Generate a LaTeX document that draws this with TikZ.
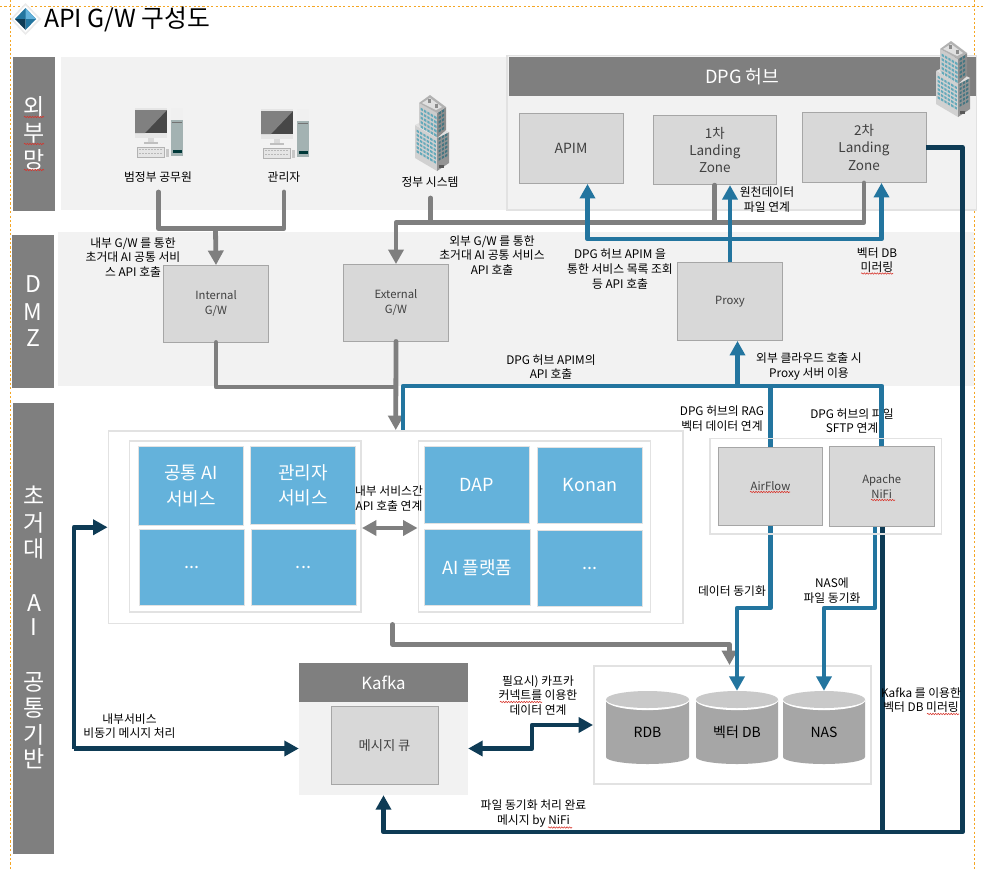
\documentclass[tikz,border=0pt]{standalone}
\usepackage{fontspec}
\setmainfont{Noto Sans CJK KR}
\usetikzlibrary{arrows.meta,decorations.pathmorphing,calc}
\definecolor{bandgray}{HTML}{7F7F7F}
\definecolor{panelgray}{HTML}{F2F2F2}
\definecolor{boxgray}{HTML}{D8D8D8}
\definecolor{edgegray}{HTML}{A6A6A6}
\definecolor{groupgray}{HTML}{E2E2E2}
\definecolor{svcblue}{HTML}{64B2DB}
\definecolor{lineblue}{HTML}{23759F}
\definecolor{linedark}{HTML}{0E3B55}
\definecolor{guide}{HTML}{F5A623}
\definecolor{boxtext}{HTML}{404040}
\definecolor{wavered}{HTML}{D8332A}
\definecolor{wintle}{HTML}{62A9BA}
\tikzset{
  gbox/.style={draw=edgegray,fill=boxgray,line width=0.9pt,text=boxtext,align=center,inner sep=0pt},
  sbox/.style={draw=groupgray,fill=svcblue,line width=1pt,text=white,align=center,inner sep=0pt,font=\fontsize{18}{25.5}\selectfont},
  grp/.style={draw=groupgray,line width=1.9pt,inner sep=0pt},
  band/.style={fill=bandgray,inner sep=0pt},
  panel/.style={fill=panelgray,inner sep=0pt},
  bandtxt/.style={text=white,font=\fontsize{23}{23}\selectfont,inner sep=0pt},
  lbl/.style={align=center,inner sep=0pt,text=black,font=\fontsize{11.8}{14.6}\selectfont},
  tip/.style={-{Triangle[length=14.5pt,width=15pt]}},
  tips/.style={{Triangle[length=14.5pt,width=15pt]}-{Triangle[length=14.5pt,width=15pt]}},
  glink/.style={draw=bandgray,line width=4.8pt,line join=round,line cap=round},
  blink/.style={draw=lineblue,line width=4.8pt,line join=round},
  dlink/.style={draw=linedark,line width=4.8pt,line join=round},
  wavy/.style={draw=wavered,line width=0.55pt,decorate,decoration={snake,segment length=2.6pt,amplitude=0.7pt}},
  guideline/.style={draw=guide,line width=0.9pt,dash pattern=on 2.2pt off 2.2pt},
  pcicon/.pic={
    \fill[black!10] (0,0) rectangle (32,30);
    \fill[black!72] (0,2) rectangle (32,25);
    \fill[black!50] (0,25) -- (0,2) -- (32,2) -- (10,25) -- cycle;
    \fill[black!15] (13,30) rectangle (19,34);
    \fill[black!25] (9,34) rectangle (23,36);
    \fill[black!10,draw=black!30,line width=0.3pt] (2,39) rectangle (29,49);
    \foreach \kx in {4,7,...,27}{\fill[black!28] (\kx,41) rectangle ++(1.6,1.4);\fill[black!28] (\kx,44.5) rectangle ++(1.6,1.4);}
    \fill[black!22] (30.5,41) rectangle (33.5,49);
    \fill[black!6] (36,0) rectangle (48,12);
    \fill[gray!80!teal!60!white] (36,12) rectangle (48,48);
    \fill[black!55] (37,14) rectangle (47,15.2);
    \fill[black!55!teal] (37.5,42) rectangle (46.5,45);
  },
  towericon/.pic={
    % lower block
    \fill[black!18] (-15,30) -- (7,43) -- (7,76) -- (-15,63) -- cycle;
    \fill[black!42] (7,43) -- (19,37) -- (19,68) -- (7,76) -- cycle;
    \fill[black!12] (-15,30) -- (-11,28) -- (15,35) -- (19,37) -- (7,43) -- cycle;
    \foreach \ci in {0,...,5}{\foreach \ri in {0,...,5}{
      \fill[wintle] ({-13.5+\ci*3.4},{34.5+\ri*4.1+\ci*2}) -- ++(2.4,1.4) -- ++(0,2.3) -- ++(-2.4,-1.4) -- cycle;}}
    \foreach \ci in {0,1,2}{\foreach \ri in {0,...,5}{
      \fill[wintle!70!black] ({8.5+\ci*3.3},{43-\ci*1.8+\ri*4.1}) -- ++(2.2,-1.2) -- ++(0,2.3) -- ++(-2.2,1.2) -- cycle;}}
    \fill[black!65] (9,70) rectangle (14,73);
    % upper block
    \fill[black!20] (-11,8) -- (7,18) -- (7,43) -- (-11,30) -- cycle;
    \fill[black!45] (7,18) -- (16,12) -- (16,35) -- (7,43) -- cycle;
    \foreach \ci in {0,...,4}{\foreach \ri in {0,...,4}{
      \fill[wintle] ({-9.5+\ci*3.4},{12.5+\ri*4.4+\ci*2}) -- ++(2.4,1.4) -- ++(0,2.4) -- ++(-2.4,-1.4) -- cycle;}}
    \foreach \ci in {0,1}{\foreach \ri in {0,...,4}{
      \fill[wintle!70!black] ({8.5+\ci*3.4},{17.5-\ci*2.1+\ri*4.4}) -- ++(2.3,-1.3) -- ++(0,2.4) -- ++(-2.3,1.3) -- cycle;}}
    \fill[black!30] (-11,8) -- (0,0) -- (16,12) -- (7,18) -- cycle;
    \fill[black!12] (-8,8) -- (0,3) -- (12,12) -- (6,15) -- cycle;
    \fill[black!45] (-2,4) rectangle (1,8);
    \fill[black!45] (5,9) rectangle (8,13);
  },
}
\newcommand{\bx}[6]{%
  \pgfmathsetmacro{\bxw}{#4-#2}\pgfmathsetmacro{\bxh}{#5-#3}%
  \pgfmathsetmacro{\bxx}{(#2+#4)/2}\pgfmathsetmacro{\bxy}{(#3+#5)/2}%
  \node[#6,minimum width=\bxw pt,minimum height=\bxh pt] (#1) at (\bxx,\bxy) {};}
\newcommand{\tbx}[7]{%
  \pgfmathsetmacro{\bxw}{#4-#2}\pgfmathsetmacro{\bxh}{#5-#3}%
  \pgfmathsetmacro{\bxx}{(#2+#4)/2}\pgfmathsetmacro{\bxy}{(#3+#5)/2}%
  \node[#6,minimum width=\bxw pt,minimum height=\bxh pt] (#1) at (\bxx,\bxy) {#7};}
\newcommand{\cyl}[4]{%
  \pgfmathsetmacro{\cmid}{(#2+#3)/2}\pgfmathsetmacro{\crx}{(#3-#2)/2}%
  \fill[edgegray] (#2,700) -- (#2,757) arc[start angle=180,delta angle=180,x radius=\crx,y radius=-7] -- (#3,700) -- cycle;
  \draw[white,line width=1.2pt,fill=white] (#2,699.5) arc[start angle=180,delta angle=180,x radius=\crx,y radius=-10] arc[start angle=0,delta angle=180,x radius=\crx,y radius=-8.5] -- cycle;
  \fill[black!21] (\cmid,699.5) ellipse[x radius=\crx,y radius=8.5];
  \bx{#1}{#2}{691}{#3}{764}{inner sep=0pt}
  \node[inner sep=0pt,text=black,font=\fontsize{14}{14}\selectfont] at (\cmid,732) {#4};}
\begin{document}
\begin{tikzpicture}[x=1pt,y=-1pt]
\useasboundingbox (0,0) rectangle (983,871);
\fill[white] (0,0) rectangle (983,871);
% guides
\draw[guideline] (0,6.3) -- (983,6.3);
\draw[guideline] (10.5,0) -- (10.5,871);
\draw[guideline] (974.7,0) -- (974.7,871);
% title
\fill[black!8] (25.5,3) -- (41,19) -- (25.5,35) -- (10.5,19) -- cycle;
\fill[white] (25.5,5.5) -- (38.5,19) -- (25.5,32.5) -- (13,19) -- cycle;
\fill[lineblue] (25.5,8) -- (36,19) -- (15,19) -- cycle;
\fill[svcblue] (25.5,8) -- (36,19) -- (25.5,19) -- cycle;
\fill[linedark] (15,19) -- (25.5,19) -- (25.5,30) -- cycle;
\fill[lineblue] (25.5,19) -- (36,19) -- (25.5,30) -- cycle;
\node[anchor=west,inner sep=0pt,font=\fontsize{24.8}{26}\selectfont] (title) at (44,19) {API G/W 구성도};
% bands and panels
\bx{bandext}{13}{57}{55}{211}{band}
\bx{banddmz}{12}{235}{54}{388}{band}
\bx{bandai}{13}{403}{54}{854}{band}
\bx{panext}{61}{57}{507}{210}{panel}
\bx{pandmz}{58}{232}{974}{386}{panel}
\node[bandtxt] (b1) at (34,107) {외};
\node[bandtxt] (b2) at (34,133) {부};
\node[bandtxt] (b3) at (34,160) {망};
\node[bandtxt] (b4) at (33,284) {D};
\node[bandtxt] (b5) at (33,312) {M};
\node[bandtxt] (b6) at (33,338) {Z};
\node[bandtxt] (b7) at (34,495) {초};
\node[bandtxt] (b8) at (34,523) {거};
\node[bandtxt] (b9) at (34,549) {대};
\node[bandtxt] (b10) at (34,603) {A};
\node[bandtxt] (b11) at (34,627) {I};
\node[bandtxt] (b12) at (34,682) {공};
\node[bandtxt] (b13) at (34,708) {통};
\node[bandtxt] (b14) at (34,735) {기};
\node[bandtxt] (b15) at (34,759) {반};
% DPG hub
\bx{hub}{507}{55.5}{976.5}{210}{draw=groupgray,fill=panelgray,line width=1.9pt}
\tbx{hubhead}{509}{57}{975.5}{96}{band,text=white,font=\fontsize{18.2}{19}\selectfont}{DPG 허브}
\tbx{apim}{519}{113}{623}{183.5}{gbox,font=\fontsize{14}{17.5}\selectfont}{APIM}
\tbx{first}{653}{115.3}{776.7}{184.7}{gbox,font=\fontsize{13.5}{17.3}\selectfont}{1차\\Landing\\Zone}
\tbx{sec}{802}{112}{926}{182.5}{gbox,font=\fontsize{13.5}{17.3}\selectfont}{2차\\Landing\\Zone}
% DMZ boxes
\tbx{gwint}{163.5}{265.5}{268.5}{342}{gbox,font=\fontsize{11.3}{15}\selectfont}{Internal\\G/W}
\tbx{gwext}{343.5}{264.5}{448.5}{341}{gbox,font=\fontsize{11.3}{15}\selectfont}{External\\G/W}
\tbx{proxy}{677.5}{262.5}{782.5}{340.5}{gbox,font=\fontsize{11.3}{15}\selectfont}{Proxy}
% AI services
\bx{outer}{108.5}{431}{683}{623.5}{grp,fill=white}
\bx{grpL}{129.5}{441}{361}{612}{grp}
\bx{grpR}{418.5}{441}{650.5}{612}{grp}
\tbx{svcA}{138.5}{446.5}{243.5}{525}{sbox}{공통 AI\\서비스}
\tbx{svcB}{250.5}{446.5}{355.5}{524.5}{sbox}{관리자\\서비스}
\tbx{svcC}{139.5}{529.5}{244}{605}{sbox}{...}
\tbx{svcD}{251}{529.5}{356}{605}{sbox}{...}
\tbx{svcE}{424.5}{446.5}{529.5}{523}{sbox}{DAP}
\tbx{svcF}{537.5}{447}{642.5}{523}{sbox}{Konan}
\tbx{svcG}{424.5}{529.5}{530}{605}{sbox}{AI 플랫폼}
\tbx{svcH}{537.5}{530.5}{642.5}{606}{sbox}{...}
% Kafka
\bx{kbody}{299}{702}{468}{795}{panel}
\tbx{khead}{299}{663}{468}{702}{band,text=white,font=\fontsize{16.8}{18}\selectfont}{Kafka}
\tbx{kqueue}{331}{706.5}{438}{784.5}{gbox,font=\fontsize{13.3}{14}\selectfont}{메시지 큐}
% DB group
\bx{dbgrp}{594}{666}{871}{784}{grp,fill=white}
\cyl{dbr}{606}{689}{RDB}
\cyl{dbv}{696}{778}{벡터 DB}
\cyl{dbn}{783}{865}{NAS}
% junctions and free ends
\coordinate (u1out) at (158.5,192);
\coordinate (u2out) at (284,192);
\coordinate (govout) at (430.5,198);
\coordinate (jA) at (215.5,228.5);
\coordinate (jB) at (430.5,222.5);
\coordinate (jC) at (730,239);
\coordinate (jD) at (737.5,386);
\coordinate (jE) at (395.5,387);
\coordinate (jF) at (754,608);
\coordinate (jG) at (850,608);
\coordinate (jH) at (882.5,832);
\coordinate (jI) at (962.5,832);
\coordinate (jL) at (74,748.5);
\coordinate (jM) at (532,737);
\coordinate (jN) at (560,644.5);
% label behind line
\node[lbl] (tSftp) at (852,421) {DPG 허브의 파일\\SFTP 연계};
% airflow group boxes
\tbx{airflow}{718.5}{447.5}{822.5}{525.5}{gbox,font=\fontsize{11.3}{15}\selectfont}{AirFlow}
\tbx{nifi}{829.5}{446.5}{934}{526.5}{gbox,font=\fontsize{11.3}{15}\selectfont}{Apache\\NiFi}
% gray connectors
\draw[glink] (u1out) |- (jA);
\draw[glink] (u2out) |- (jA);
\draw[glink,tip] (jA) -- (gwint.north);
\draw[glink] (govout) -- (jB);
\draw[glink,tip] (jB) -| (gwext.north);
\draw[glink] (first.south) |- (jB);
\draw[glink] (sec.south) |- (jB);
\draw[glink,tip] (gwext.south) -- (outer.north);
\draw[glink] (gwint.south) |- (jE);
\draw[glink,tips] ([yshift=-1.5pt]grpL.east) -- ([yshift=-1.5pt]grpR.west);
\draw[glink,tip] ([xshift=-3.25pt]outer.south) |- (jN) -| (729.5,0 |- dbgrp.north);
% blue connectors
\draw[blink,tip] (proxy.north) -- (proxy.north |- first.south);
\draw[blink,tip] (jC) -| ([xshift=16.5pt]apim.south);
\draw[blink,tip] (jC) -| ([xshift=17.5pt]sec.south);
\draw[blink,tip] (jD) -- ([xshift=7.5pt]proxy.south);
\draw[blink] (jD) -| ([xshift=7.25pt]outer.north);
\draw[blink] (jD) -| (airflow.north);
\draw[blink] (jD) -| (nifi.north);
\draw[blink,tip] (airflow.south) |- (jF) -| (dbv.north);
\draw[blink,tip] ([xshift=-6.75pt]nifi.south) |- (jG) -| (dbn.north);
% dark connectors
\draw[dlink] ([xshift=0.75pt]nifi.south) -- (jH);
\draw[dlink,tip] (sec.east) -| (jI) -- (jH) -| (kbody.south);
\draw[dlink,tip] (jL) |- (outer.west);
\draw[dlink,tip] (jL) -- (kbody.west);
\draw[dlink,tips] (kbody.east) -| (jM) |- (dbgrp.west);
% group outlines on top of lines
\bx{grpAir}{710}{438.5}{941.5}{534}{grp}
% icons
\pic at (135,108) {pcicon};
\pic at (261,109) {pcicon};
\pic at (430,95) {towericon};
\pic at (951,41) {towericon};
% user labels
\node[lbl] (u1) at (158,177) {범정부 공무원};
\node[lbl] (u2) at (284,177) {관리자};
\node[lbl] (gov) at (430,182) {정부 시스템};
% connector labels
\node[lbl] (t1) at (133,257.5) {내부 G/W 를 통한\\초거대 AI 공통 서비\\스 API 호출};
\node[lbl] (t2) at (492,255.5) {외부 G/W 를 통한\\초거대 AI 공통 서비스\\API 호출};
\node[lbl] (t3) at (620,269) {DPG 허브 APIM 을\\통한 서비스 목록 조회\\등 API 호출};
\node[lbl] (t4) at (767,199.5) {원천데이터\\파일 연계};
\node[lbl] (t5) at (877,260) {벡터 DB\\미러링};
\node[lbl] (t6) at (551,367) {DPG 허브 APIM의\\API 호출};
\node[lbl] (t7) at (809,366.5) {외부 클라우드 호출 시\\Proxy 서버 이용};
\node[lbl] (t8) at (722,418.5) {DPG 허브의 RAG\\벡터 데이터 연계};
\node[lbl] (t9) at (389,498.5) {내부 서비스간\\API 호출 연계};
\node[lbl] (t10) at (732,591) {데이터 동기화};
\node[lbl] (t11) at (832,590.5) {NAS에\\파일 동기화};
\node[lbl] (t12) at (538,695.5) {필요시) 카프카\\커넥트를 이용한\\데이터 연계};
\node[lbl] (t13) at (129.5,726) {내부서비스\\비동기 메시지 처리};
\node[lbl] (t14) at (533.5,813.5) {파일 동기화 처리 완료\\메시지 by NiFi};
\node[lbl] (t15) at (921,700) {Kafka 를 이용한\\벡터 DB 미러링};
% spell-check marks
\draw[wavy] (24,117) -- (44,117);
\draw[wavy] (24,144) -- (44,144);
\draw[wavy] (24,170) -- (44,170);
\draw[wavy] (861,273.5) -- (893,273.5);
\draw[wavy] (750,492) -- (790,492);
\draw[wavy] (871,500) -- (895,500);
\draw[wavy] (500,702) -- (542,702);
\draw[wavy] (548,827.5) -- (572,827.5);
\draw[wavy] (927,714) -- (959,714);
\end{tikzpicture}
\end{document}
